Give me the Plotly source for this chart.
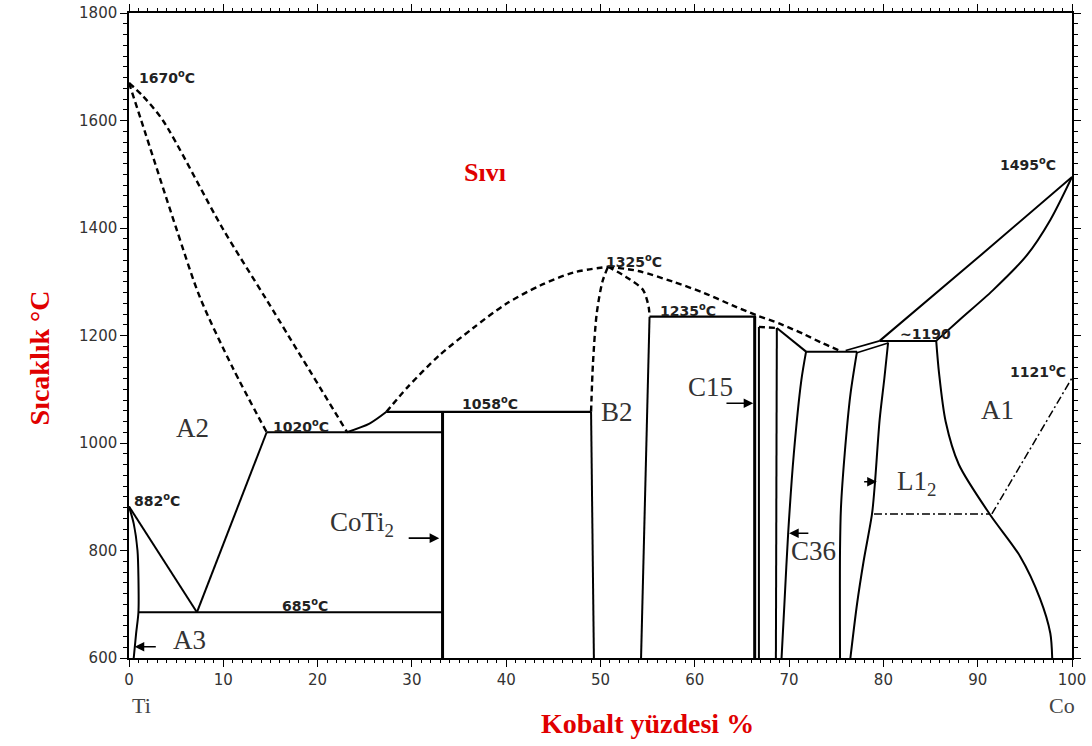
import plotly.graph_objects as go

# ---------------- data (composition in % Co, temperature in °C) ----------------
liq_ti_x = [0, 1.5, 3.6, 9.9, 14.6, 23.1]
liq_ti_y = [1670, 1645, 1600, 1400, 1266, 1021]

sol_a2_x = [0, 1.3, 5.0, 7.5, 11, 14.6]
sol_a2_y = [1670, 1600, 1400, 1272, 1140, 1020]

ti_882_x = [0, 7.2]
ti_882_y = [882, 685]
eutectoid_x = [7.2, 14.6]
eutectoid_y = [685, 1020]
iso_1020_x = [14.6, 33.2]
iso_1020_y = [1020, 1020]
iso_685_x = [1.0, 33.2]
iso_685_y = [685, 685]
a3_x = [0, 0.5, 0.9, 1.0, 1.0, 0.75, 0.5]
a3_y = [882, 850, 800, 750, 685, 645, 600]

perit_x = [23.1, 25.5, 27.3]
perit_y = [1020, 1036, 1058]
iso_1058_x = [27.3, 49.0]
iso_1058_y = [1058, 1058]
coti2_x = [33.25, 33.25]
coti2_y = [1058, 600]

liq_mid_x = [27.3, 29.5, 32.9, 36.5, 40.0, 43.6, 47.1, 50.8]
liq_mid_y = [1058, 1103, 1163, 1214, 1259, 1293, 1317, 1328]

b2_left_dash_x = [49.0, 49.2, 49.6, 50.2, 50.8]
b2_left_dash_y = [1058, 1148, 1241, 1300, 1328]
b2_left_x = [49.0, 49.3]
b2_left_y = [1058, 600]
b2_right_dash_x = [50.8, 52.7, 54.5, 55.1, 55.2]
b2_right_dash_y = [1328, 1309, 1285, 1254, 1235]
b2_right_x = [55.2, 54.3]
b2_right_y = [1235, 600]

iso_1235_x = [55.2, 66.5]
iso_1235_y = [1235, 1235]
liq_right_x = [50.8, 54.0, 57.7, 61.0, 64.0, 66.5, 69.0, 71.5, 73.5, 75.6]
liq_right_y = [1328, 1320, 1300, 1279, 1256, 1238, 1222, 1203, 1186, 1170]

c15_a_x = [66.35, 66.35]
c15_a_y = [1235, 600]
c15_b_x = [66.8, 66.8]
c15_b_y = [1216, 600]
c15_top_dash_x = [66.8, 68.7]
c15_top_dash_y = [1216, 1214]

c36_v_x = [68.7, 68.6]
c36_v_y = [1214, 600]
c36_slope_x = [68.7, 71.8]
c36_slope_y = [1214, 1170]
iso_1170_x = [71.8, 77.2]
iso_1170_y = [1170, 1170]
c36_left_x = [71.8, 71.3, 70.5, 69.9, 69.5, 69.2]
c36_left_y = [1170, 1117, 980, 832, 700, 600]
c36_right_x = [77.2, 76.5, 75.9, 75.5, 75.4, 75.4]
c36_right_y = [1170, 1090, 981, 880, 800, 600]

l12_left_x = [80.5, 80.1, 79.6, 79.1, 78.8, 77.9, 77.2, 76.5]
l12_left_y = [1187, 1120, 1043, 925, 869, 780, 700, 600]

eut_up_x = [76.0, 79.6]
eut_up_y = [1172, 1190]
eut_lo_x = [77.2, 80.5]
eut_lo_y = [1168, 1186]

iso_1190_x = [79.6, 85.6]
iso_1190_y = [1190, 1190]
liq_co_x = [79.6, 89.5, 100]
liq_co_y = [1190, 1337, 1495]
sol_co_x = [85.6, 88.0, 91.6, 95.2, 97.7, 100]
sol_co_y = [1190, 1228, 1284, 1349, 1415, 1495]

a1_x = [85.6, 85.9, 86.6, 88.0, 91.3, 94.5, 96.6, 97.7, 97.9]
a1_y = [1190, 1130, 1040, 960, 867, 789, 711, 646, 600]

magn_h_x = [79.0, 91.3]
magn_h_y = [868, 868]
magn_d_x = [91.5, 100]
magn_d_y = [868, 1121]

x_ticks = [0, 10, 20, 30, 40, 50, 60, 70, 80, 90, 100]
y_ticks = [600, 800, 1000, 1200, 1400, 1600, 1800]

# (x, y, width, smooth)
solid = [
    (ti_882_x, ti_882_y, 2, False), (eutectoid_x, eutectoid_y, 2, False),
    (iso_1020_x, iso_1020_y, 2.2, False), (iso_685_x, iso_685_y, 2, False),
    (a3_x, a3_y, 2, True), (perit_x, perit_y, 2, True),
    (iso_1058_x, iso_1058_y, 2.2, False), (coti2_x, coti2_y, 3, False),
    (b2_left_x, b2_left_y, 2, False), (b2_right_x, b2_right_y, 2, False),
    (iso_1235_x, iso_1235_y, 2.2, False), (c15_a_x, c15_a_y, 3, False),
    (c15_b_x, c15_b_y, 2, False), (c36_v_x, c36_v_y, 2, False),
    (c36_slope_x, c36_slope_y, 2, False), (iso_1170_x, iso_1170_y, 2, False),
    (c36_left_x, c36_left_y, 2, True), (c36_right_x, c36_right_y, 2, True),
    (l12_left_x, l12_left_y, 2, True), (eut_up_x, eut_up_y, 1.6, False),
    (eut_lo_x, eut_lo_y, 1.6, False), (iso_1190_x, iso_1190_y, 2, False),
    (liq_co_x, liq_co_y, 2, True), (sol_co_x, sol_co_y, 2, True),
    (a1_x, a1_y, 2, True),
]
dashed = [
    (liq_ti_x, liq_ti_y, True), (sol_a2_x, sol_a2_y, True), (liq_mid_x, liq_mid_y, True),
    (b2_left_dash_x, b2_left_dash_y, True), (b2_right_dash_x, b2_right_dash_y, True),
    (liq_right_x, liq_right_y, True), (c15_top_dash_x, c15_top_dash_y, False),
]
dashdot = [(magn_h_x, magn_h_y), (magn_d_x, magn_d_y)]

fig = go.Figure()
for xs, ys, w, sm in solid:
    fig.add_trace(go.Scatter(x=xs, y=ys, mode="lines",
                             line=dict(color="black", width=w,
                                       shape="spline" if sm else "linear", smoothing=0.8),
                             hoverinfo="skip", showlegend=False))
for xs, ys, sm in dashed:
    fig.add_trace(go.Scatter(x=xs, y=ys, mode="lines",
                             line=dict(color="black", width=2.4, dash="6px,4px",
                                       shape="spline" if sm else "linear", smoothing=0.8),
                             hoverinfo="skip", showlegend=False))
for xs, ys in dashdot:
    fig.add_trace(go.Scatter(x=xs, y=ys, mode="lines",
                             line=dict(color="black", width=1.5, dash="8px,3px,2px,3px"),
                             hoverinfo="skip", showlegend=False))

num_font = dict(family="DejaVu Sans", size=14, color="#222", weight="bold")
phase_font = dict(family="Liberation Serif", size=27, color="#333")
red_font = dict(family="Liberation Serif", size=28, color="#e00000", weight="bold")

temp_labels = [
    ("1670<sup>o</sup>C", 0.8, 1681), ("882<sup>o</sup>C", 0.3, 894),
    ("1020<sup>o</sup>C", 15.1, 1031), ("685<sup>o</sup>C", 16.0, 699),
    ("1058<sup>o</sup>C", 35.1, 1074), ("1325<sup>o</sup>C", 50.4, 1339),
    ("1235<sup>o</sup>C", 56.1, 1248), ("~1190", 81.5, 1202),
    ("1495<sup>o</sup>C", 92.2, 1520), ("1121<sup>o</sup>C", 93.2, 1134),
]
for t, x, y in temp_labels:
    fig.add_annotation(x=x, y=y, text=t, showarrow=False, xanchor="left",
                       yanchor="middle", font=num_font)

phase_labels = [
    ("A2", 6.7, 1027, "center"), ("A3", 6.4, 634, "center"),
    ("CoTi<sub>2</sub>", 21.1, 850, "left"), ("B2", 51.8, 1057, "center"),
    ("C15", 61.7, 1104, "center"), ("C36", 72.6, 799, "center"),
    ("L1<sub>2</sub>", 81.2, 925, "left"), ("A1", 92.1, 1062, "center"),
]
for t, x, y, anc in phase_labels:
    fig.add_annotation(x=x, y=y, text=t, showarrow=False, xanchor=anc,
                       yanchor="middle", font=phase_font)

fig.add_annotation(x=37.7, y=1504, text="Sıvı", showarrow=False, font=dict(
    family="Liberation Serif", size=26, color="#e00000", weight="bold"))

arrows = [  # (head_x, head_y, tail_x, tail_y)
    (32.9, 823, 29.5, 823), (66.2, 1074, 63.2, 1074), (0.6, 621, 3.0, 621),
    (79.3, 928, 77.8, 928), (70.0, 832, 72.2, 832),
]
for hx, hy, tx, ty in arrows:
    fig.add_annotation(x=hx, y=hy, ax=tx, ay=ty, xref="x", yref="y", axref="x", ayref="y",
                       text="", showarrow=True, arrowhead=2, arrowsize=1.2,
                       arrowwidth=1.6, arrowcolor="black")

fig.add_annotation(x=1.3, y=-0.074, xref="x", yref="paper", text="Ti", showarrow=False,
                   yanchor="middle", font=dict(family="Liberation Serif", size=22, color="#444"))
fig.add_annotation(x=98.9, y=-0.074, xref="x", yref="paper", text="Co", showarrow=False,
                   yanchor="middle", font=dict(family="Liberation Serif", size=22, color="#444"))
fig.add_annotation(x=-0.114, y=0.466, xref="paper", yref="paper", text="Sıcaklık °C",
                   showarrow=False, textangle=-90, font=red_font)
fig.add_annotation(x=0.55, y=-0.102, xref="paper", yref="paper", text="Kobalt yüzdesi %",
                   showarrow=False, yanchor="middle", font=red_font)

axis_common = dict(showgrid=False, zeroline=False, showline=True, linecolor="black",
                   linewidth=1.5, mirror="allticks", ticks="outside", tickcolor="black",
                   tickwidth=1.3, ticklen=7,
                   tickfont=dict(family="DejaVu Sans", size=15, color="#333"))
fig.update_xaxes(range=[0, 100], tickvals=x_ticks, **axis_common,
                 minor=dict(dtick=1, ticklen=3, tickcolor="black", ticks="outside", showgrid=False))
fig.update_yaxes(range=[600, 1800], tickvals=y_ticks, **axis_common,
                 minor=dict(dtick=20, ticklen=4, tickcolor="black", ticks="outside", showgrid=False))

fig.update_layout(width=1092, height=746,
                  margin=dict(l=129, r=20, t=13, b=88, autoexpand=False),
                  plot_bgcolor="white", paper_bgcolor="white")

fig.write_html("out.html")
